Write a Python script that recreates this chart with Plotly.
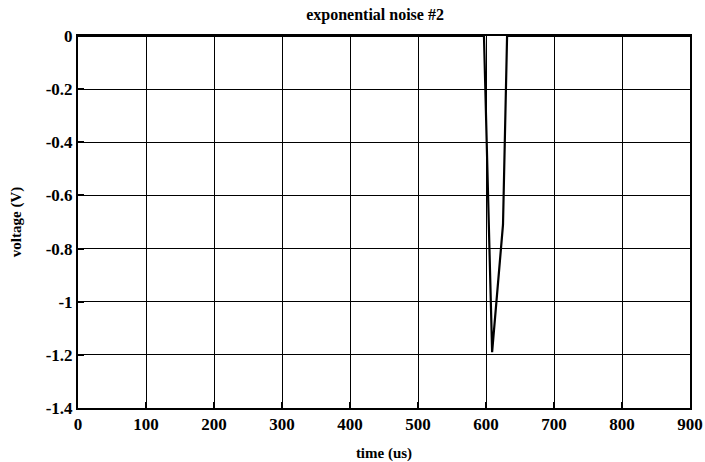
import plotly.graph_objects as go

# Sampled pulse: flat at 0 V, sharp negative spike near 600 us
time_us = [0, 597, 609, 625, 631, 900]
voltage_v = [0, 0, -1.19, -0.71, 0, 0]

x_ticks = [0, 100, 200, 300, 400, 500, 600, 700, 800, 900]
y_ticks = [0, -0.2, -0.4, -0.6, -0.8, -1.0, -1.2, -1.4]
y_tick_text = ["0", "-0.2", "-0.4", "-0.6", "-0.8", "-1", "-1.2", "-1.4"]

font_family = "Liberation Serif"

fig = go.Figure()
fig.add_trace(go.Scatter(
    x=time_us, y=voltage_v, mode="lines",
    line=dict(color="black", width=2.2),
    showlegend=False, cliponaxis=True,
))

axis_common = dict(
    showline=True, linecolor="black", linewidth=2, mirror=True,
    showgrid=True, gridcolor="black", gridwidth=1.3,
    ticks="inside", ticklen=6, tickcolor="black", tickwidth=1.5,
    zeroline=False, automargin=False,
    tickfont=dict(family=font_family, size=17, color="black", weight="bold"),
)

fig.update_xaxes(
    range=[0, 900], tickvals=x_ticks, ticktext=[str(v) for v in x_ticks],
    title=dict(text="time (us)", standoff=20,
               font=dict(family=font_family, size=15, color="black", weight="bold")),
    **axis_common,
)
fig.update_yaxes(
    range=[-1.4, 0], tickvals=y_ticks, ticktext=y_tick_text,
    title=dict(text="voltage (V)", standoff=20,
               font=dict(family=font_family, size=15, color="black", weight="bold")),
    **axis_common,
)

fig.update_layout(
    width=705, height=462,
    margin=dict(l=78, r=15, t=36, b=54),
    paper_bgcolor="white", plot_bgcolor="white",
    title=dict(text="exponential noise #2", x=0.532, xanchor="center",
               y=0.968, yanchor="middle",
               font=dict(family=font_family, size=16, color="black", weight="bold")),
)

fig.write_html("out.html")
